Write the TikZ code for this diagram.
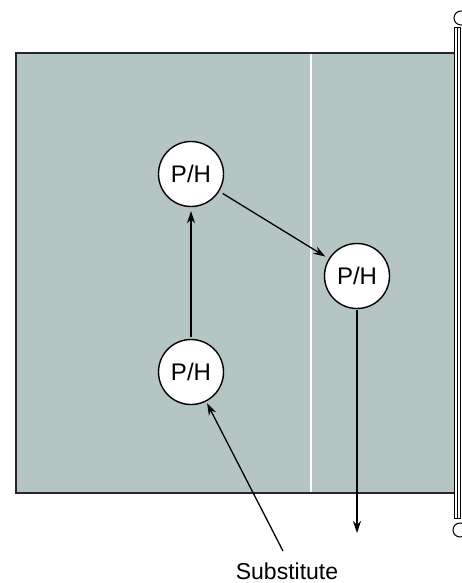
\documentclass[tikz,border=0pt]{standalone}
\usepackage{fontspec}
\setmainfont{Liberation Sans}
\usetikzlibrary{arrows.meta}
\definecolor{court}{RGB}{180,197,195}
\tikzset{
  ph/.style={circle,draw=black,line width=1.4pt,fill=white,minimum size=65pt,inner sep=0pt,font=\fontsize{24}{26}\selectfont},
  arr/.style={line width=1.3pt,-{Stealth[length=12pt,width=8pt]}},
  edge/.style={line width=1.8pt,draw=black!85}
}
\begin{document}
\begin{tikzpicture}[x=1pt,y=-1pt]
\useasboundingbox (0,0) rectangle (461,583);
\fill[white] (0,0) rectangle (461,583);
% court
\fill[court] (16,53) rectangle (455,493);
\draw[edge] (455,53) -- (16,53) -- (16,493) -- (455,493);
% attack line
\draw[white,line width=1.5pt] (311,54) -- (311,492);
% post
\draw[line width=1pt,fill=white] (454,28) rectangle (460,518);
\draw[line width=0.6pt] (457,28) -- (457,518);
\draw[line width=1pt] (461,18) circle (7);
\draw[line width=1pt] (460,530) circle (7);
% players
\node[ph] (t) at (191,174) {P/H};
\node[ph] (r) at (357,276) {P/H};
\node[ph] (b) at (191,372) {P/H};
\node[font=\fontsize{23}{25}\selectfont,anchor=base,inner sep=0pt,text depth=0pt] (s) at (287,579) {Substitute};
\coordinate (send) at (357,533);
\coordinate (sstart) at (283,551);
\draw[arr,shorten <=2pt,shorten >=4pt] (b) -- (t);
\draw[arr,shorten <=4pt,shorten >=4pt] (t) -- (r);
\draw[arr,shorten <=1pt] (r) -- (send);
\draw[arr,shorten >=2pt] (sstart) -- (b);
\end{tikzpicture}
\end{document}
